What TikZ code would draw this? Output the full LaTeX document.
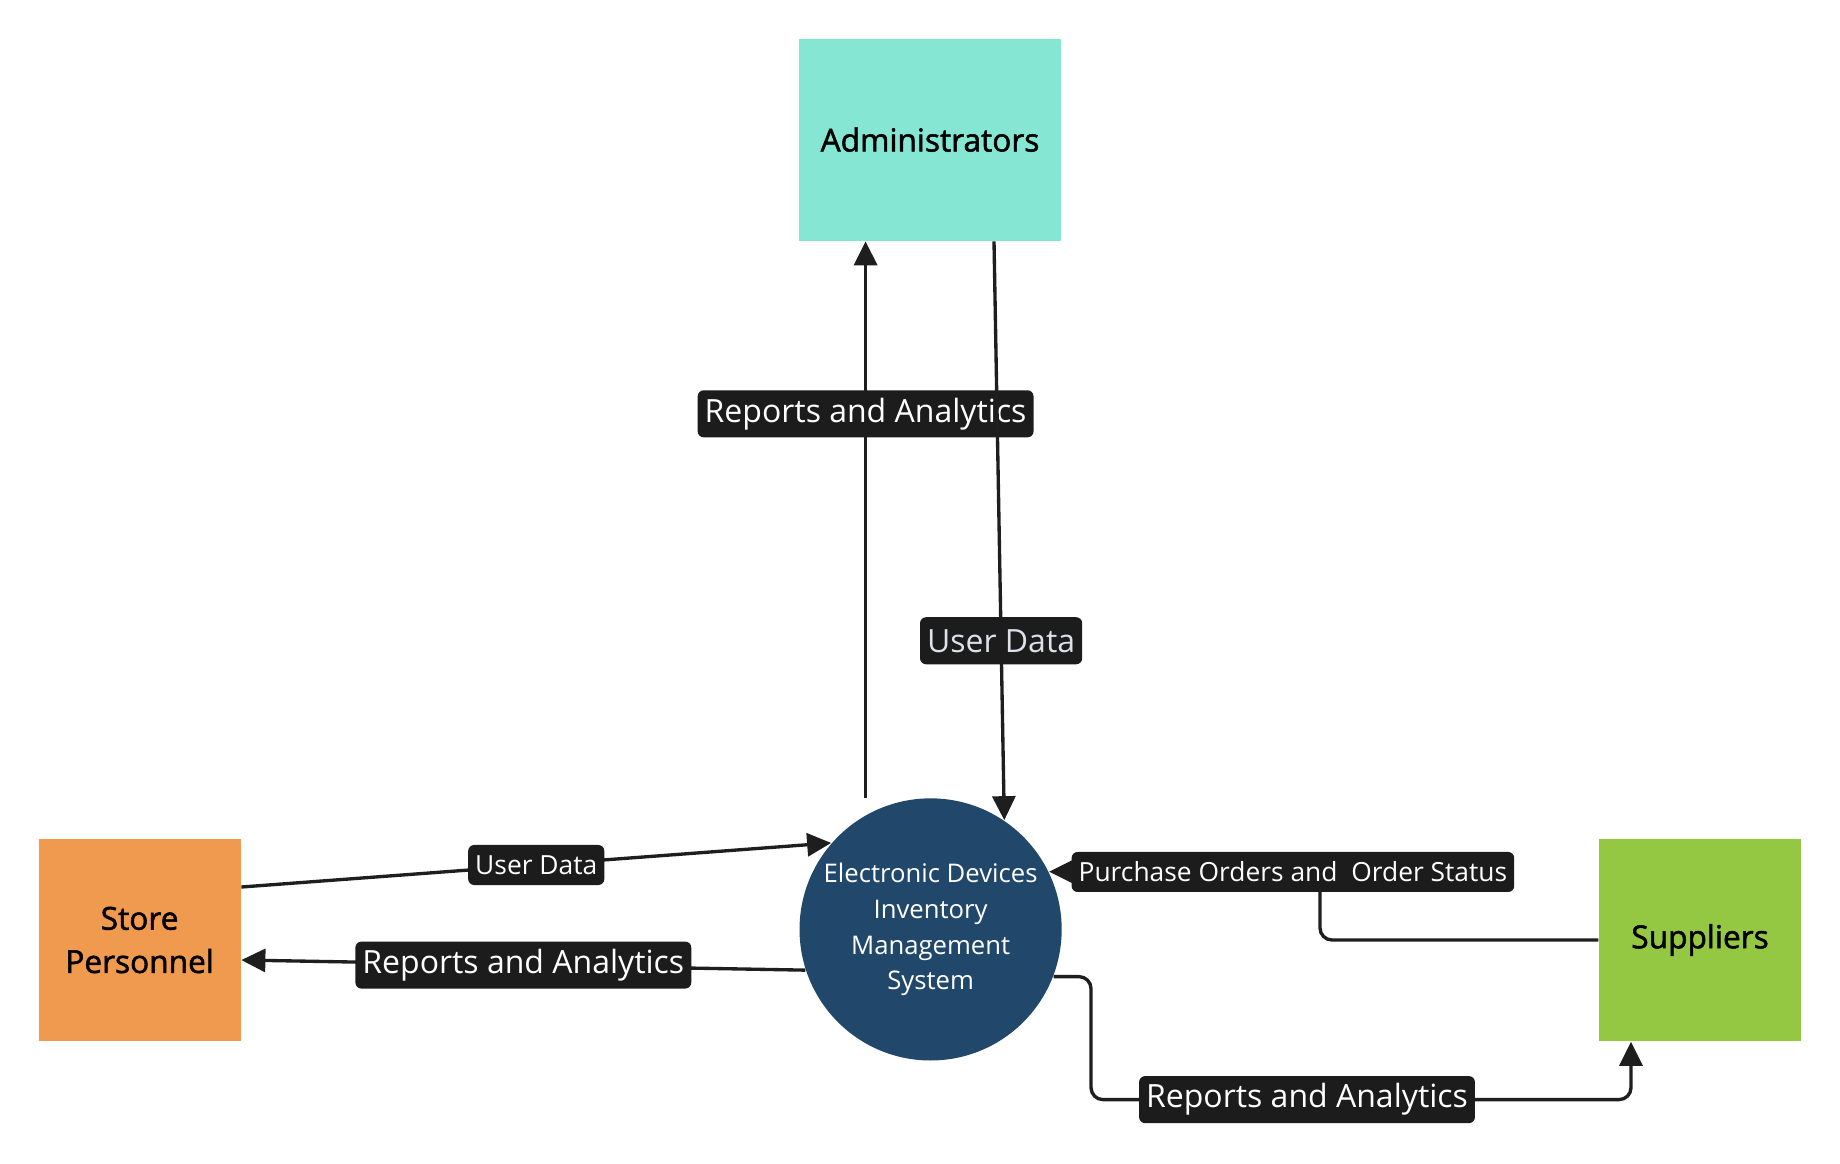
\documentclass[tikz,border=0pt]{standalone}
\usepackage{fontspec}
\setmainfont{Open Sans}
\newfontfamily\entfont[FakeBold=1.6]{Open Sans}
\usepackage{tikz}
\usetikzlibrary{calc}
\usetikzlibrary{arrows.meta}
\usetikzlibrary{shapes}
\definecolor{admc}{RGB}{134,230,212}
\definecolor{storec}{RGB}{240,154,79}
\definecolor{supc}{RGB}{149,200,66}
\definecolor{sysc}{RGB}{33,72,107}
\definecolor{linec}{RGB}{30,30,30}
\definecolor{lblc}{RGB}{28,28,28}
\definecolor{greytext}{RGB}{222,224,234}
\tikzset{>=latex}
\tikzstyle{entity} = [rectangle, draw=none, minimum width=2.02cm, minimum height=2.02cm, align=center, inner sep=0, font=\entfont\fontsize{9}{12.3}\selectfont]
\tikzstyle{flow} = [-{Triangle[length=0.24cm, width=0.23cm]}, line width=0.95pt, draw=linec]
\tikzstyle{lbl} = [rectangle, rounded corners=0.06cm, fill=lblc, text=white, inner xsep=2pt, inner ysep=0pt, minimum height=0.47cm, font=\fontsize{9.1}{11}\selectfont]
\tikzstyle{lblsmall} = [lbl, minimum height=0.40cm, font=\fontsize{7.5}{9}\selectfont]

\begin{document}
\begin{tikzpicture}[x=0.01cm, y=-0.01cm]
\useasboundingbox (0,0) rectangle (1840,1163);
\node [entity, fill=admc, minimum width=2.62cm] (adm) at (930, 139.6) {Administrators};
\node [entity, fill=storec] (store) at (139.6, 940) {Store\\Personnel};
\node [entity, fill=supc] (sup) at (1700, 940) {Suppliers};
\node [circle, fill=sysc, text=white, minimum size=2.62cm, inner sep=0, align=center, font=\fontsize{7.3}{10.2}\selectfont] (sys) at (930.6, 929.4) {Electronic Devices\\Inventory\\Management\\System};
% system <-> administrators
\coordinate (a1) at ($(sys.north)+(-65,0)$);
\draw [flow] (a1) to node[lbl, pos=0.69] {Reports and Analytics} (a1 |- adm.south);
\draw [flow] ($(adm.south)+(64,0)$) to node[lbl, pos=0.69, text=greytext] {User Data} (sys.56);
% store personnel
\draw [flow] ($(store.east)+(0,-53)$) to node[lblsmall, pos=0.5] {User Data} (sys.139);
\draw [flow] (sys.198) to node[lbl, pos=0.5] {Reports and Analytics} ($(store.east)+(0,20)$);
% suppliers
\coordinate (p5) at (1320, 872);
\draw [flow, rounded corners=0.12cm] (sup.west) -| (p5) -- node[lblsmall, pos=0.1] {Purchase Orders and \ Order Status} (sys.26);
\coordinate (p6) at (1091, 1099.6);
\draw [flow, rounded corners=0.12cm] (sys.-21) -| (p6) -| node[lbl, pos=0.2] {Reports and Analytics} ($(sup.south)+(-69,0)$);
\end{tikzpicture}
\end{document}
